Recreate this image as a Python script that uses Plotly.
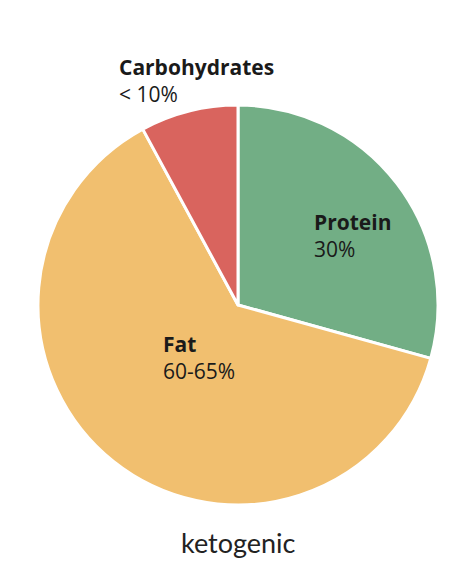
import plotly.graph_objects as go

labels = ["Protein", "Fat", "Carbohydrates"]
values = [29.3, 62.8, 7.9]
label_text = ["30%", "60-65%", "< 10%"]
colors = ["#72ae85", "#f1bf6f", "#d9645e"]
title_text = "ketogenic"

W, H, OFF = 454, 572, 8

def px(x):
    return (x - OFF) / W

def py(y):
    return 1 - (y - OFF) / H

fig = go.Figure(go.Pie(
    labels=labels, values=values, sort=False, direction="clockwise", rotation=0,
    marker=dict(colors=colors, line=dict(color="white", width=3)),
    textinfo="none", hoverinfo="label+percent", showlegend=False,
    domain=dict(x=[px(38), px(438)], y=[py(505), py(105)]),
))

font = "'Open Sans', Lato, sans-serif"
pos = {"Protein": (312, 206), "Fat": (161, 328), "Carbohydrates": (117, 51)}
for lab, txt in zip(labels, label_text):
    x, y = pos[lab]
    fig.add_annotation(x=px(x), y=py(y), xref="paper", yref="paper",
                       xanchor="left", yanchor="top", align="left", showarrow=False,
                       text=f"<b>{lab}</b><br>{txt}",
                       font=dict(family=font, size=21, color="#1a1a1a"))
fig.add_annotation(x=px(238), y=py(524), xref="paper", yref="paper",
                   xanchor="center", yanchor="top", showarrow=False, text=title_text,
                   font=dict(family="Lato, sans-serif", size=27, color="#222222"))

fig.update_layout(width=W, height=H, margin=dict(l=0, r=0, t=0, b=0),
                  paper_bgcolor="white", plot_bgcolor="white")
fig.write_html("out.html")
